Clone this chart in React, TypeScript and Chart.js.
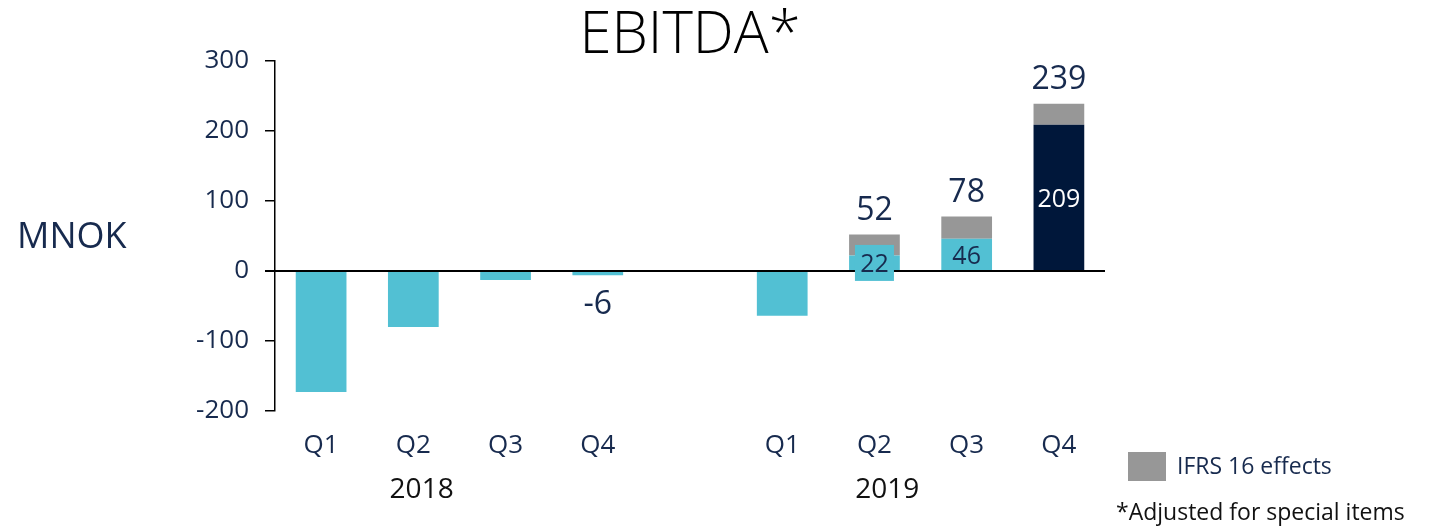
import React, { useEffect, useRef } from "react";
import { Chart, registerables } from "chart.js";

Chart.register(...registerables);

const categories = ["Q1", "Q2", "Q3", "Q4", "", "Q1", "Q2", "Q3", "Q4"];
const yearLabels = ["2018", "2019"];
const yearCenters = [1.09, 6.14];
const ebitdaExIfrs = [-173, -80, -13, -6, null, -64, 22, 46, 209];
const ifrs16Effects = [null, null, null, null, null, null, 30, 32, 30];
const totalLabels = [null, null, null, "-6", null, null, "52", "78", "239"];
const innerLabels = [null, null, null, null, null, null, "22", "46", "209"];
const yTicks = { min: -200, max: 300, step: 100 };

const CYAN = "#52C0D3";
const NAVY_BAR = "#00173A";
const GREY = "#979797";
const TEXT = "#172A4E";
const FONT = "'Open Sans', sans-serif";

const overlayPlugin = {
  id: "overlay",
  afterDatasetsDraw(chart: any) {
    const { ctx, chartArea, scales } = chart;
    const y0 = scales.y.getPixelForValue(0);
    ctx.save();
    // zero line
    ctx.strokeStyle = "#000";
    ctx.lineWidth = 2;
    ctx.beginPath();
    ctx.moveTo(chartArea.left - 10, y0);
    ctx.lineTo(chartArea.right, y0);
    ctx.stroke();

    const meta0 = chart.getDatasetMeta(0);
    const meta1 = chart.getDatasetMeta(1);
    ctx.textAlign = "center";
    ctx.textBaseline = "middle";

    // inner labels
    innerLabels.forEach((lab, i) => {
      if (!lab) return;
      const el = meta0.data[i];
      const cy = (el.y + el.base) / 2;
      ctx.font = `25px ${FONT}`;
      if (i === 6) {
        ctx.fillStyle = CYAN;
        ctx.fillRect(el.x - 19.5, cy - 18, 39, 36);
      }
      ctx.fillStyle = i === 8 ? "#ffffff" : TEXT;
      ctx.fillText(lab, el.x, cy + 2);
    });

    // total labels
    totalLabels.forEach((lab, i) => {
      if (!lab) return;
      const neg = (ebitdaExIfrs[i] ?? 0) < 0;
      ctx.font = `32px ${FONT}`;
      ctx.fillStyle = TEXT;
      if (neg) {
        const el = meta0.data[i];
        ctx.fillText(lab, el.x, el.y + 30);
      } else {
        const el = ifrs16Effects[i] != null ? meta1.data[i] : meta0.data[i];
        ctx.fillText(lab, el.x, el.y - 24);
      }
    });
    ctx.restore();
  },
  afterDraw(chart: any) {
    const { ctx, chartArea, scales } = chart;
    ctx.save();
    ctx.textBaseline = "middle";
    // title
    ctx.textAlign = "center";
    ctx.fillStyle = "#000";
    ctx.font = `300 58px ${FONT}`;
    ctx.fillText("EBITDA*", (chartArea.left + chartArea.right) / 2, 36);
    // years
    ctx.font = `28px ${FONT}`;
    ctx.fillStyle = "#111";
    yearLabels.forEach((y, k) => {
      ctx.fillText(y, scales.x.getPixelForValue(yearCenters[k]), 490);
    });
    // MNOK
    ctx.textAlign = "left";
    ctx.fillStyle = TEXT;
    ctx.font = `36px ${FONT}`;
    ctx.fillText("MNOK", 17, 238);
    // legend
    ctx.fillStyle = GREY;
    ctx.fillRect(1128, 452, 38, 29);
    ctx.fillStyle = TEXT;
    ctx.font = `23px ${FONT}`;
    ctx.fillText(chart.data.datasets[1].label, 1177, 467);
    ctx.fillStyle = "#111";
    ctx.fillText("*Adjusted for special items", 1116, 513);
    ctx.restore();
  },
};

export default function App() {
  const ref = useRef<HTMLCanvasElement>(null);
  useEffect(() => {
    document.body.style.margin = "0";
    const chart = new Chart(ref.current as HTMLCanvasElement, {
      type: "bar",
      data: {
        labels: categories,
        datasets: [
          {
            label: "EBITDA",
            data: ebitdaExIfrs as any,
            backgroundColor: ebitdaExIfrs.map((_, i) => (i === 8 ? NAVY_BAR : CYAN)),
            stack: "s",
            barPercentage: 0.55,
            categoryPercentage: 1,
          },
          {
            label: "IFRS 16 effects",
            data: ifrs16Effects as any,
            backgroundColor: GREY,
            stack: "s",
            barPercentage: 0.55,
            categoryPercentage: 1,
          },
        ],
      },
      options: {
        animation: false,
        responsive: false,
        layout: { padding: { left: 0, right: 325, top: 61, bottom: 0 } },
        plugins: {
          legend: { display: false },
          tooltip: { enabled: false },
          title: { display: false },
        },
        scales: {
          x: {
            stacked: true,
            grid: { display: false, drawTicks: false },
            border: { display: false },
            ticks: { color: TEXT, font: { family: FONT, size: 26 }, padding: 19 },
            afterFit: (s: any) => {
              s.height = 117;
            },
          },
          y: {
            stacked: true,
            min: yTicks.min,
            max: yTicks.max,
            grid: {
              display: true,
              drawOnChartArea: false,
              drawTicks: true,
              tickLength: 10,
              color: "#000",
              lineWidth: 1.5,
            },
            border: { display: true, color: "#000", width: 1.5 },
            ticks: {
              stepSize: yTicks.step,
              color: TEXT,
              font: { family: FONT, size: 26 },
              padding: 16,
            },
            afterFit: (s: any) => {
              s.width = 275;
            },
          },
        },
      },
      plugins: [overlayPlugin],
    });
    return () => chart.destroy();
  }, []);
  return (
    <div style={{ width: 1430, height: 528 }}>
      <canvas ref={ref} width={1430} height={528} style={{ display: "block" }} />
    </div>
  );
}
